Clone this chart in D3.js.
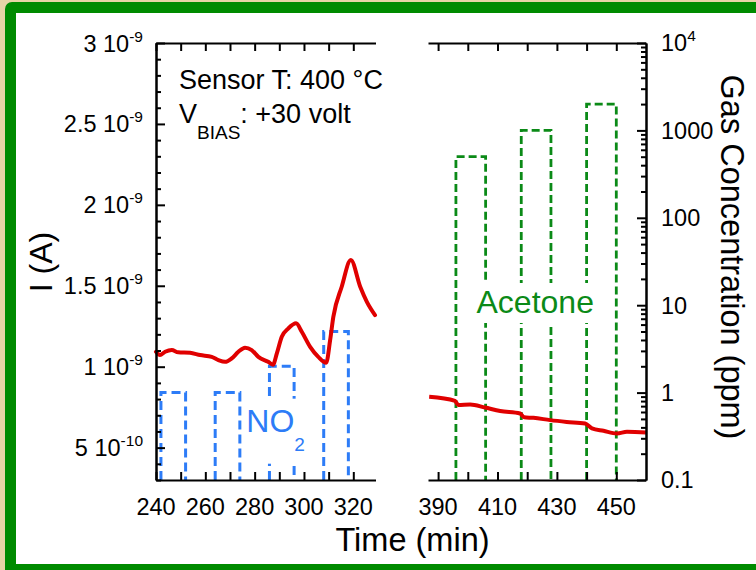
<!DOCTYPE html>
<html>
<head>
<meta charset="utf-8">
<script src="https://cdn.jsdelivr.net/npm/d3@7/dist/d3.min.js"></script>
<style>
  html, body { margin: 0; padding: 0; background: #e8d5a6; }
  svg { display: block; }
  text { font-family: "Liberation Sans", Arial, Helvetica, sans-serif; fill: #000; }
</style>
</head>
<body>
<svg id="chart" width="756" height="570"></svg>
<script>
// ---- data -------------------------------------------------------------
// Sensor current (in units of 1e-9 A) during the NO2 pulse sequence
const timeNO2Run = [240, 241.6, 243.7, 246.4, 249, 253.8, 257.9, 262.6, 265.3, 268, 270.7, 273.4,
  276.1, 278.8, 281.5, 285.5, 287.4, 289, 291, 293.7, 296.8, 299.1, 302.5, 305.8, 309, 310.6,
  311.9, 315.3, 319, 322.8, 325.5, 328.8];
const currentNO2Run = [1.092, 1.072, 1.092, 1.103, 1.089, 1.086, 1.072, 1.061, 1.041, 1.030, 1.051, 1.092,
  1.117, 1.103, 1.061, 1.030, 1.012, 1.082, 1.185, 1.237, 1.268, 1.216, 1.123, 1.061, 1.024, 1.164,
  1.308, 1.494, 1.659, 1.494, 1.401, 1.319];

// Sensor current (in units of 1e-9 A) during the acetone pulse sequence
const timeAcetoneRun = [387, 395.7, 396.8, 400.8, 405.8, 410.9, 417.6, 419, 422.1, 427.7, 433.3,
  439.5, 441.8, 445.7, 450.2, 453.6, 460];
const currentAcetoneRun = [0.814, 0.789, 0.763, 0.767, 0.748, 0.726, 0.711, 0.687, 0.684, 0.670, 0.659,
  0.649, 0.619, 0.604, 0.588, 0.598, 0.594];

// Gas pulses: start time (min), duration (min), concentration (ppm)
const no2Start = [242, 264, 286, 308];
const no2Duration = [10, 10, 10, 10];
const no2Conc = [1, 1, 2, 5];
const acetoneStart = [396, 418, 440];
const acetoneDuration = [10, 10, 10];
const acetoneConc = [500, 1000, 2000];

// Axis ticks and labels
const leftTickValues = [0.5, 1, 1.5, 2, 2.5, 3];
const leftTickMantissa = ["5", "1", "1.5", "2", "2.5", "3"];
const leftTickExponent = ["-10", "-9", "-9", "-9", "-9", "-9"];
const rightTickValues = [0.1, 1, 10, 100, 1000, 10000];
const rightTickText = ["0.1", "1", "10", "100", "1000", "10"];
const rightTickSup = ["", "", "", "", "", "4"];
const timeTicksLeft = [240, 250, 260, 270, 280, 290, 300, 310, 320];
const timeLabelsLeft = [240, 260, 280, 300, 320];
const timeTicksRight = [390, 400, 410, 420, 430, 440, 450];
const timeLabelsRight = [390, 410, 430, 450];

// ---- layout -----------------------------------------------------------
const svg = d3.select("#chart");
const plotTop = 43, plotBottom = 480;
const leftPanel = [156, 375.5];
const rightPanel = [428, 646];

const RED = "#e00000", BLUE = "#2d7cf7", GREEN = "#0b8a17", FRAME = "#008b00";

const xL = d3.scaleLinear().domain([240, 329]).range(leftPanel);
const xR = d3.scaleLinear().domain([386.6, 460]).range(rightPanel);
const yI = d3.scaleLinear().domain([0.3, 3]).range([plotBottom, plotTop]);
const yC = d3.scaleLog().domain([0.1, 10000]).range([plotBottom, plotTop]);

// ---- frame ------------------------------------------------------------
svg.append("rect").attr("x", 0).attr("y", 0).attr("width", 756).attr("height", 570).attr("fill", "#e8d5a6");
svg.append("rect").attr("x", 5).attr("y", 2).attr("width", 820).attr("height", 640)
  .attr("rx", 7).attr("fill", FRAME);
svg.append("rect").attr("x", 16).attr("y", 13).attr("width", 820).attr("height", 551).attr("fill", "#fff");

const plot = svg.append("g");

// ---- gas pulses (open dashed rectangles on the log axis) --------------
const pulseLine = d3.line();
function pulsePath(x, start, dur, conc) {
  const x0 = x(start), x1 = x(start + dur), yt = yC(conc), yb = yC(0.1);
  return pulseLine([[x0, yb], [x0, yt], [x1, yt], [x1, yb]]);
}

plot.append("g").selectAll("path")
  .data(no2Start.map((s, i) => ({ s, d: no2Duration[i], c: no2Conc[i] })))
  .join("path")
  .attr("d", p => pulsePath(xL, p.s, p.d, p.c))
  .attr("fill", "none").attr("stroke", BLUE).attr("stroke-width", 3)
  .attr("stroke-dasharray", "9,5");

plot.append("g").selectAll("path")
  .data(acetoneStart.map((s, i) => ({ s, d: acetoneDuration[i], c: acetoneConc[i] })))
  .join("path")
  .attr("d", p => pulsePath(xR, p.s, p.d, p.c))
  .attr("fill", "none").attr("stroke", GREEN).attr("stroke-width", 2.8)
  .attr("stroke-dasharray", "8,4");

// ---- gas labels with a white backing ----------------------------------
function backedLabel(build, pad) {
  const g = plot.append("g");
  const bg = g.append("rect").attr("fill", "#fff");
  const t = build(g);
  const b = t.node().getBBox();
  bg.attr("x", b.x - pad[3]).attr("y", b.y - pad[0])
    .attr("width", b.width + pad[1] + pad[3]).attr("height", b.height + pad[0] + pad[2]);
}

backedLabel(g => {
  const t = g.append("text").attr("x", xL(276.6)).attr("y", 431.7)
    .style("font-size", "32px").style("fill", BLUE);
  t.append("tspan").text("NO");
  t.append("tspan").attr("dy", 19).style("font-size", "19px").text("2");
  return t;
}, [4, 2, 9, 3]);

backedLabel(g => g.append("text").attr("x", xR(422.7)).attr("y", 313)
  .attr("text-anchor", "middle").style("font-size", "32px").style("fill", GREEN)
  .text("Acetone"), [1, 2, 3, 2]);

// ---- sensor current ---------------------------------------------------
const currentLine = x => d3.line().x(d => x(d[0])).y(d => yI(d[1])).curve(d3.curveMonotoneX);

plot.append("path")
  .attr("d", currentLine(xL)(timeNO2Run.map((t, i) => [t, currentNO2Run[i]])))
  .attr("fill", "none").attr("stroke", RED).attr("stroke-width", 4)
  .attr("stroke-linejoin", "round").attr("stroke-linecap", "round");

plot.append("path")
  .attr("d", currentLine(xR)(timeAcetoneRun.map((t, i) => [t, currentAcetoneRun[i]])))
  .attr("fill", "none").attr("stroke", RED).attr("stroke-width", 4)
  .attr("stroke-linejoin", "round");

// ---- axes -------------------------------------------------------------
function styleAxis(g) {
  g.selectAll(".domain, .tick line").attr("stroke", "#000").attr("stroke-width", 2);
  g.selectAll(".tick text").remove();
  return g;
}

// time axes (bottom and top) of each panel, ticks pointing inward
[[xL, timeTicksLeft], [xR, timeTicksRight]].forEach(([x, ticks]) => {
  svg.append("g").attr("transform", `translate(0,${plotBottom})`)
    .call(d3.axisBottom(x).tickValues(ticks).tickSize(-8).tickSizeOuter(0)).call(styleAxis);
  svg.append("g").attr("transform", `translate(0,${plotTop})`)
    .call(d3.axisTop(x).tickValues(ticks).tickSize(-8).tickSizeOuter(0)).call(styleAxis);
});

// time tick labels
svg.append("g").selectAll("text")
  .data(timeLabelsLeft.map(v => xL(v)).concat(timeLabelsRight.map(v => xR(v))))
  .join("text")
  .attr("x", d => d).attr("y", 515).attr("text-anchor", "middle")
  .style("font-size", "23.5px")
  .text((d, i) => timeLabelsLeft.concat(timeLabelsRight)[i]);

// current axis (left), major and minor ticks pointing inward
const minorI = d3.range(3, 31).map(v => v / 10).filter(v => !leftTickValues.some(m => Math.abs(m - v) < 1e-9));
svg.append("g").attr("transform", `translate(${leftPanel[0]},0)`)
  .call(d3.axisLeft(yI).tickValues(minorI).tickSize(-5).tickSizeOuter(0)).call(styleAxis);
svg.append("g").attr("transform", `translate(${leftPanel[0]},0)`)
  .call(d3.axisLeft(yI).tickValues(leftTickValues).tickSize(-9).tickSizeOuter(0)).call(styleAxis);

const leftLabels = svg.append("g").selectAll("text")
  .data(leftTickValues).join("text")
  .attr("x", 143).attr("y", d => yI(d) + 8.5)
  .attr("text-anchor", "end").style("font-size", "23.5px");
leftLabels.append("tspan").text((d, i) => leftTickMantissa[i] + " 10");
leftLabels.append("tspan").attr("dy", -10).style("font-size", "15.5px").text((d, i) => leftTickExponent[i]);

// gas concentration axis (right, logarithmic)
const minorC = [];
for (let e = -1; e < 4; e++) for (let m = 2; m <= 9; m++) minorC.push(m * Math.pow(10, e));
svg.append("g").attr("transform", `translate(${rightPanel[1]},0)`)
  .call(d3.axisRight(yC).tickValues(minorC).tickSize(-5).tickSizeOuter(0)).call(styleAxis);
svg.append("g").attr("transform", `translate(${rightPanel[1]},0)`)
  .call(d3.axisRight(yC).tickValues(rightTickValues).tickSize(-9).tickSizeOuter(0)).call(styleAxis);

const rightLabels = svg.append("g").selectAll("text")
  .data(rightTickValues).join("text")
  .attr("x", 661).attr("y", d => yC(d) + 8.3)
  .style("font-size", "23.5px");
rightLabels.append("tspan").text((d, i) => rightTickText[i]);
rightLabels.append("tspan").attr("dy", -10).style("font-size", "15.5px").text((d, i) => rightTickSup[i]);

// ---- titles and annotations -------------------------------------------
svg.append("text").attr("x", 412.5).attr("y", 551).attr("text-anchor", "middle")
  .style("font-size", "32.5px").text("Time (min)");

svg.append("text").attr("transform", "translate(52,262) rotate(-90)")
  .attr("text-anchor", "middle").style("font-size", "32px").text("I (A)");

svg.append("text").attr("transform", "translate(721,257) rotate(90)")
  .attr("text-anchor", "middle").style("font-size", "32.5px").text("Gas Concentration (ppm)");

svg.append("text").attr("x", 179).attr("y", 89.3).style("font-size", "27px")
  .text("Sensor T: 400 °C");
const vb = svg.append("text").attr("x", 179).attr("y", 123.3).style("font-size", "27px");
vb.append("tspan").text("V");
vb.append("tspan").attr("dy", 16).style("font-size", "19px").text("BIAS");
vb.append("tspan").attr("dy", -16).text(": +30 volt");
</script>
</body>
</html>
